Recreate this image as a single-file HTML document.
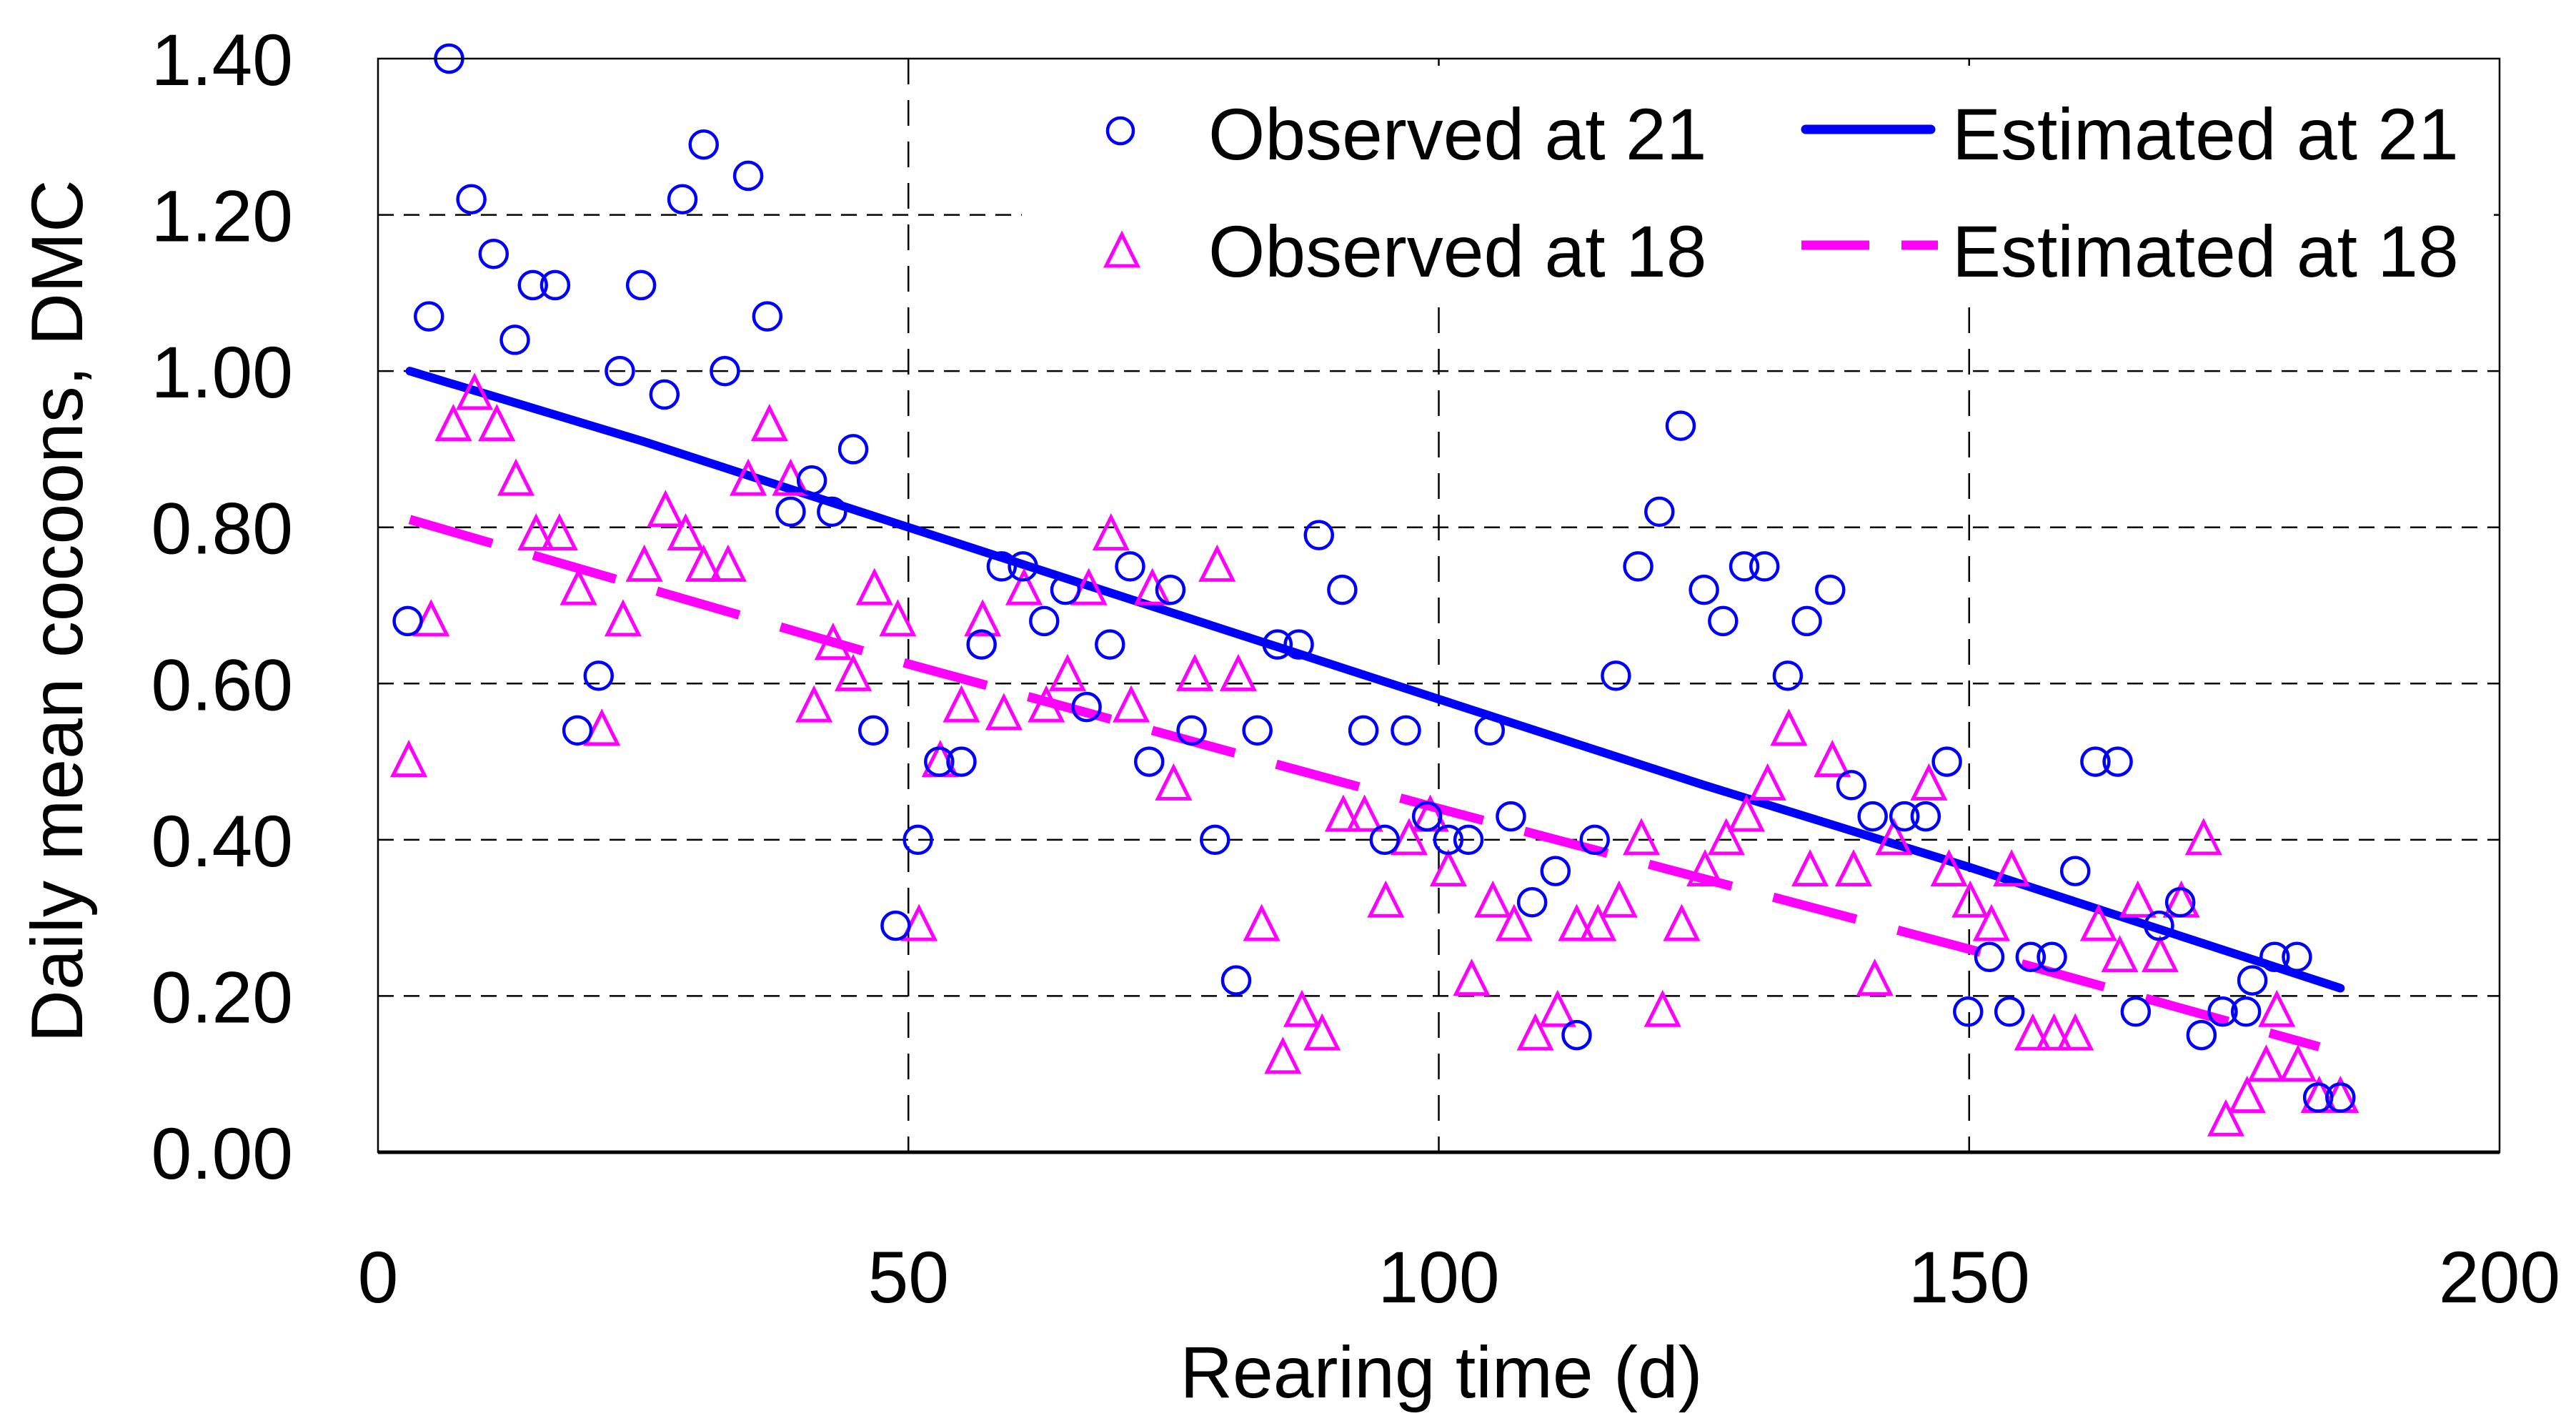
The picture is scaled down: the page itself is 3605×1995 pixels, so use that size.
<!DOCTYPE html>
<html><head><meta charset="utf-8">
<style>
html,body{margin:0;padding:0;background:#fff;}
svg{display:block;font-family:"Liberation Sans",Arial,sans-serif;}
</style></head>
<body>
<svg id="chart" width="3605" height="1995" viewBox="0 0 3605 1995" xmlns="http://www.w3.org/2000/svg">
<rect x="0" y="0" width="3605" height="1995" fill="#fff"/>
<g id="grid"></g>
<rect x="1430" y="92" width="2060" height="336" fill="#fff"/>
<g id="series"></g>
<g id="axes"></g>
<text x="88" y="855" font-size="102" text-anchor="middle" transform="rotate(-90 88 855)" dominant-baseline="middle">Daily mean cocoons, DMC</text>
<text x="2017" y="1955" font-size="102" text-anchor="middle">Rearing time (d)</text>
<g>
  <circle cx="1568" cy="183" r="18" fill="none" stroke="#0000ff" stroke-width="4.5"/>
  <text x="1691" y="223" font-size="102">Observed at 21</text>
  <polygon points="1570,328 1548,372 1592,372" fill="none" stroke="#ff00ff" stroke-width="5"/>
  <text x="1691" y="387" font-size="102">Observed at 18</text>
  <line x1="2527" y1="181" x2="2702" y2="181" stroke="#0000ff" stroke-width="13" stroke-linecap="round"/>
  <text x="2732" y="223" font-size="102">Estimated at 21</text>
  <line x1="2521" y1="343" x2="2712" y2="343" stroke="#ff00ff" stroke-width="13" stroke-dasharray="95,45"/>
  <text x="2732" y="387" font-size="102">Estimated at 18</text>
</g>
</svg>
<script>
const xTicks=[0,50,100,150,200];
const yTicks=[0,0.2,0.4,0.6,0.8,1.0,1.2,1.4];
const yTickLabels=["0.00","0.20","0.40","0.60","0.80","1.00","1.20","1.40"];
const obs21Days=[2.8,4.8,6.7,8.8,10.9,12.9,14.6,16.7,18.8,20.8,22.8,24.8,27,28.7,30.7,32.7,34.9,36.7,38.9,40.9,42.8,44.8,46.7,48.8,50.9,52.9,55,56.9,58.8,60.8,62.8,64.8,66.8,69,70.9,72.7,74.7,76.7,78.9,80.9,82.9,84.8,86.8,88.7,90.9,92.9,94.9,96.9,98.9,100.9,102.8,104.8,106.8,108.8,111,113,114.7,116.7,118.8,120.8,122.8,125,126.8,128.8,130.7,132.9,134.7,136.9,138.9,140.9,143.9,145.9,147.9,149.9,151.9,153.8,155.8,157.8,160,161.9,164,165.7,167.9,169.9,171.9,173.9,176.1,176.7,178.8,180.9,182.9,185];
const obs21Vals=[0.68,1.07,1.40,1.22,1.15,1.04,1.11,1.11,0.54,0.61,1.00,1.11,0.97,1.22,1.29,1.00,1.25,1.07,0.82,0.86,0.82,0.90,0.54,0.29,0.40,0.50,0.50,0.65,0.75,0.75,0.68,0.72,0.57,0.65,0.75,0.50,0.72,0.54,0.40,0.22,0.54,0.65,0.65,0.79,0.72,0.54,0.40,0.54,0.43,0.40,0.40,0.54,0.43,0.32,0.36,0.15,0.40,0.61,0.75,0.82,0.93,0.72,0.68,0.75,0.75,0.61,0.68,0.72,0.47,0.43,0.43,0.43,0.50,0.18,0.25,0.18,0.25,0.25,0.36,0.50,0.50,0.18,0.29,0.32,0.15,0.18,0.18,0.22,0.25,0.25,0.07,0.07];
const obs18Days=[2.9,5,7.1,9.1,11.2,13,14.9,17.1,18.9,21.1,23.1,25.1,27.1,29,30.7,33,34.9,36.9,38.9,41.1,42.9,44.8,46.8,49,51,53,55,57,59,60.9,63,65,67,69.1,71,73,75,77,79.1,81.1,83.3,85.3,87.1,89,91,93,95,97.2,99.2,100.9,103.1,105.1,107.1,109.1,111.2,113,115,117,119.1,121.1,122.9,125.1,127.1,129,131,133,135,137.1,139.1,141.1,142.9,146.2,148.1,150.1,152.1,154,156,158,160,162.2,164.2,165.9,168,170,172.1,174.2,176.2,178,179,181,183,185];
const obs18Vals=[0.50,0.68,0.93,0.97,0.93,0.86,0.79,0.79,0.72,0.54,0.68,0.75,0.82,0.79,0.75,0.75,0.86,0.93,0.86,0.57,0.65,0.61,0.72,0.68,0.29,0.50,0.57,0.68,0.56,0.72,0.57,0.61,0.72,0.79,0.57,0.72,0.47,0.61,0.75,0.61,0.29,0.12,0.18,0.15,0.43,0.43,0.32,0.40,0.43,0.36,0.22,0.32,0.29,0.15,0.18,0.29,0.29,0.32,0.40,0.18,0.29,0.36,0.40,0.43,0.47,0.54,0.36,0.50,0.36,0.22,0.40,0.47,0.36,0.32,0.29,0.36,0.15,0.15,0.15,0.29,0.25,0.32,0.25,0.32,0.40,0.04,0.07,0.11,0.18,0.11,0.07,0.07];
const est21Days=[3,25,50,75,100,125,150,185];
const est21Vals=[1.00,0.91,0.80,0.69,0.58,0.47,0.365,0.21];
const est18Days=[3,50,100,150,183];
const est18Vals=[0.81,0.625,0.44,0.26,0.135];

const NS="http://www.w3.org/2000/svg";
const L=529,R=3498,T=82,B=1612;
const xs=d=>L+(d/200)*(R-L);
const ys=v=>B-(v/1.4)*(B-T);
function mk(tag,attrs,parent){const e=document.createElementNS(NS,tag);for(const k in attrs)e.setAttribute(k,attrs[k]);parent.appendChild(e);return e;}
const grid=document.getElementById('grid'),axes=document.getElementById('axes'),series=document.getElementById('series');

yTicks.forEach((v,i)=>{
  if(v>0&&v<1.4){
    const g=mk('line',{x1:L,x2:R,y1:ys(v),y2:ys(v),stroke:'#000','stroke-width':2.5,'stroke-dasharray':'22,14'},grid);
    
    
  }
  const t=mk('text',{x:410,y:ys(v)+37,'font-size':102,'text-anchor':'end'},axes);
  t.textContent=yTickLabels[i];
  
  
});
xTicks.forEach(d=>{
  if(d>0&&d<200){
    const g=mk('line',{x1:xs(d),x2:xs(d),y1:T,y2:B,stroke:'#000','stroke-width':2.5,'stroke-dasharray':'36,22'},grid);
    
    
  }
  const t=mk('text',{x:xs(d),y:1822,'font-size':102,'text-anchor':'middle'},axes);
  t.textContent=String(d);
  
  
});
const frame=mk('rect',{x:L,y:T,width:R-L,height:B-T,fill:'none',stroke:'#000','stroke-width':2.5},axes);


const xaxis=mk('line',{x1:L,x2:R,y1:B,y2:B,stroke:'#000','stroke-width':5},axes);



const p21=est21Days.map((d,i)=>xs(d)+','+ys(est21Vals[i])).join(' ');
const l21=mk('polyline',{points:p21,fill:'none',stroke:'#0000ff','stroke-width':12,'stroke-linejoin':'round','stroke-linecap':'round'},series);


const p18=est18Days.map((d,i)=>xs(d)+','+ys(est18Vals[i])).join(' ');
const l18=mk('polyline',{points:p18,fill:'none',stroke:'#ff00ff','stroke-width':13,'stroke-dasharray':'120,60'},series);



obs18Days.forEach((d,i)=>{
  const cx=xs(d),cy=ys(obs18Vals[i]);
  const p=mk('polygon',{points:`${cx},${cy-25} ${cx-22},${cy+19} ${cx+22},${cy+19}`,fill:'none',stroke:'#ff00ff','stroke-width':5},series);
  
  
});
obs21Days.forEach((d,i)=>{
  const c=mk('circle',{cx:xs(d),cy:ys(obs21Vals[i]),r:19,fill:'none',stroke:'#0000ff','stroke-width':4.5},series);
  
  
});
</script>
</body></html>
